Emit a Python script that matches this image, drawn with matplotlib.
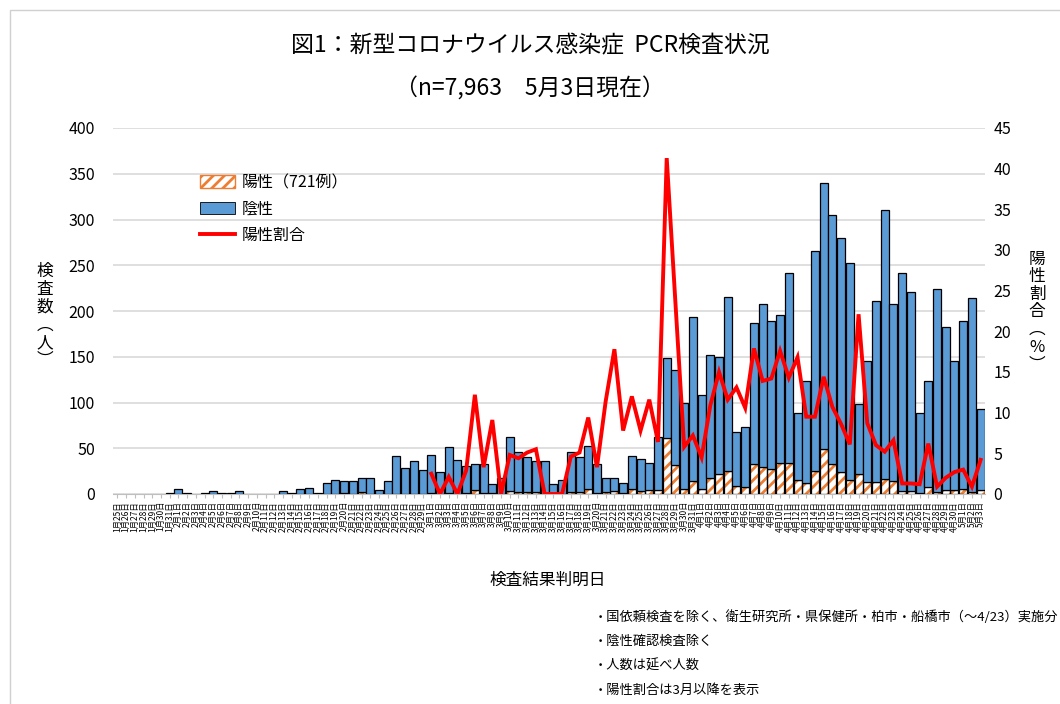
import numpy as np
import pandas as pd
import matplotlib
matplotlib.use("Agg")
import matplotlib.pyplot as plt
from matplotlib.patches import Patch, Rectangle
from matplotlib.lines import Line2D

plt.rcParams['font.family'] = ['Noto Sans CJK JP', 'DejaVu Sans']
plt.rcParams['hatch.linewidth'] = 2.0

# 1/25 .. 5/3 (100 days)
days = pd.date_range("2020-01-25", "2020-05-03", freq="D")
date_labels = [f"{d.month}月{d.day}日" for d in days]

# total tests per day (bar height)
total = [0, 0, 0, 0, 0, 0, 1, 5, 1, 0,
         1, 3, 1, 1, 3, 0, 0, 0, 0, 3,
         1, 5, 7, 1, 12, 15, 14, 14, 17, 17,
         4, 14, 41, 28, 36, 26, 43, 24, 51, 37,
         31, 33, 33, 11, 17, 62, 46, 40, 36, 36,
         11, 15, 46, 40, 53, 33, 17, 17, 12, 42,
         38, 34, 62, 149, 136, 99, 193, 108, 152, 150,
         215, 68, 73, 187, 208, 189, 196, 241, 88, 123,
         266, 340, 305, 280, 253, 98, 145, 211, 310, 208,
         242, 221, 89, 124, 224, 183, 145, 189, 214, 93]

# positive cases per day
positive = [0, 0, 0, 0, 0, 0, 0, 0, 0, 0,
            0, 0, 0, 0, 0, 0, 0, 0, 0, 0,
            0, 0, 0, 0, 0, 0, 1, 0, 2, 0,
            0, 0, 0, 0, 0, 0, 1, 0, 1, 0,
            1, 4, 1, 1, 0, 3, 2, 2, 2, 0,
            0, 0, 2, 2, 5, 1, 2, 3, 1, 5,
            3, 4, 4, 61, 32, 6, 14, 5, 17, 22,
            25, 9, 8, 33, 29, 27, 34, 34, 15, 12,
            25, 49, 33, 24, 15, 22, 13, 13, 16, 14,
            3, 3, 1, 8, 2, 4, 4, 6, 2, 4]

# positive rate (%), shown from 3/1
rate_start = 36
rate = [2.5, 0, 2.1, 0, 2.9, 12.2, 3.3, 9.1, 0, 4.8,
        4.4, 5.1, 5.5, 0, 0, 0, 4.6, 5.1, 9.4, 3.3,
        11.4, 17.8, 7.8, 12.0, 7.8, 11.6, 6.4, 41.3, 23.5, 5.8,
        7.2, 4.5, 10.9, 15.0, 11.6, 13.1, 10.6, 17.9, 13.9, 14.2,
        17.6, 14.3, 16.8, 9.5, 9.5, 14.4, 10.7, 8.6, 6.1, 22.1,
        8.7, 6.0, 5.2, 6.6, 1.3, 1.3, 1.2, 6.2, 0.9, 2.0,
        2.7, 3.0, 0.9, 4.2]

blue = '#5B9BD5'
orange = '#ED7D31'

total = np.array(total)
positive = np.array(positive)
negative = total - positive
x = np.arange(len(total))

fig = plt.figure(figsize=(10.6, 7.04), dpi=100)
fig.patches.append(Rectangle((10 / 1060, -0.1), 1.2, 1 - 10 / 704 + 0.1,
                             transform=fig.transFigure, fill=False,
                             edgecolor='#D0D0D0', linewidth=1))

ax = fig.add_axes([113 / 1060, 1 - 494 / 704, 872 / 1060, 366 / 704])
w = 0.92

m = positive > 0
ax.bar(x[m], positive[m], width=w, color='white', edgecolor=orange,
       hatch='///', linewidth=0, zorder=2)
ax.bar(x[m], positive[m], width=w, fill=False, edgecolor='black',
       linewidth=0.9, zorder=3)
m = negative > 0
ax.bar(x[m], negative[m], bottom=positive[m], width=w, color=blue,
       edgecolor='black', linewidth=0.9, zorder=3)

ax.set_xlim(-0.5, len(total) - 0.5)
ax.set_ylim(0, 400)
ax.set_yticks(np.arange(0, 401, 50))
ax.yaxis.grid(True, color='#D9D9D9', linewidth=1.2, zorder=0)
ax.set_axisbelow(True)
ax.tick_params(axis='y', length=0, pad=13, labelsize=11.5)
ax.set_xticks(x)
ax.set_xticklabels(date_labels, rotation=90, fontsize=6)
ax.tick_params(axis='x', length=3, color='#BFBFBF', pad=2)
for s in ['top', 'left', 'right']:
    ax.spines[s].set_visible(False)
ax.spines['bottom'].set_color('#BFBFBF')

ax2 = ax.twinx()
ax2.plot(x[rate_start:], rate, color='#FF0000', linewidth=2.8, zorder=5,
         solid_joinstyle='miter')
ax2.set_ylim(0, 45)
ax2.set_yticks(np.arange(0, 46, 5))
ax2.tick_params(axis='y', length=0, pad=6, labelsize=11.5)
for s in ['top', 'left', 'right', 'bottom']:
    ax2.spines[s].set_visible(False)

fig.text(0.5, 1 - 46 / 704, "図1：新型コロナウイルス感染症  PCR検査状況",
         ha='center', va='center', fontsize=16.5)
fig.text(0.5, 1 - 89 / 704, "（n=7,963　5月3日現在）",
         ha='center', va='center', fontsize=16.5)

fig.text(45 / 1060, 1 - 316 / 704, "\n".join("検査数︵人︶"),
         ha='center', va='center', fontsize=12, linespacing=1.05)
fig.text(1037 / 1060, 1 - 312 / 704, "\n".join("陽性割合︵%︶"),
         ha='center', va='center', fontsize=12, linespacing=1.05)
fig.text(548 / 1060, 1 - 580 / 704, "検査結果判明日",
         ha='center', va='center', fontsize=12)

handles = [Patch(facecolor='white', edgecolor=orange, hatch='///'),
           Patch(facecolor=blue, edgecolor='black', linewidth=0.6),
           Line2D([0], [0], color='#FF0000', linewidth=2.8)]
labels = ["陽性（721例）", "陰性", "陽性割合"]
ax.legend(handles, labels, loc='upper left',
          bbox_to_anchor=(200 / 1060, 1 - 174 / 704),
          bbox_transform=fig.transFigure, frameon=False, fontsize=11.5,
          handlelength=2.2, handleheight=0.8, labelspacing=0.6,
          borderpad=0, borderaxespad=0, handletextpad=0.4)

notes = ["・国依頼検査を除く、衛生研究所・県保健所・柏市・船橋市（～4/23）実施分",
         "・陰性確認検査除く",
         "・人数は延べ人数",
         "・陽性割合は3月以降を表示"]
for k, t in enumerate(notes):
    fig.text(594 / 1060, 1 - (617 + 24.5 * k) / 704, t,
             ha='left', va='center', fontsize=9.5)

fig.savefig("out.png", dpi=100)
